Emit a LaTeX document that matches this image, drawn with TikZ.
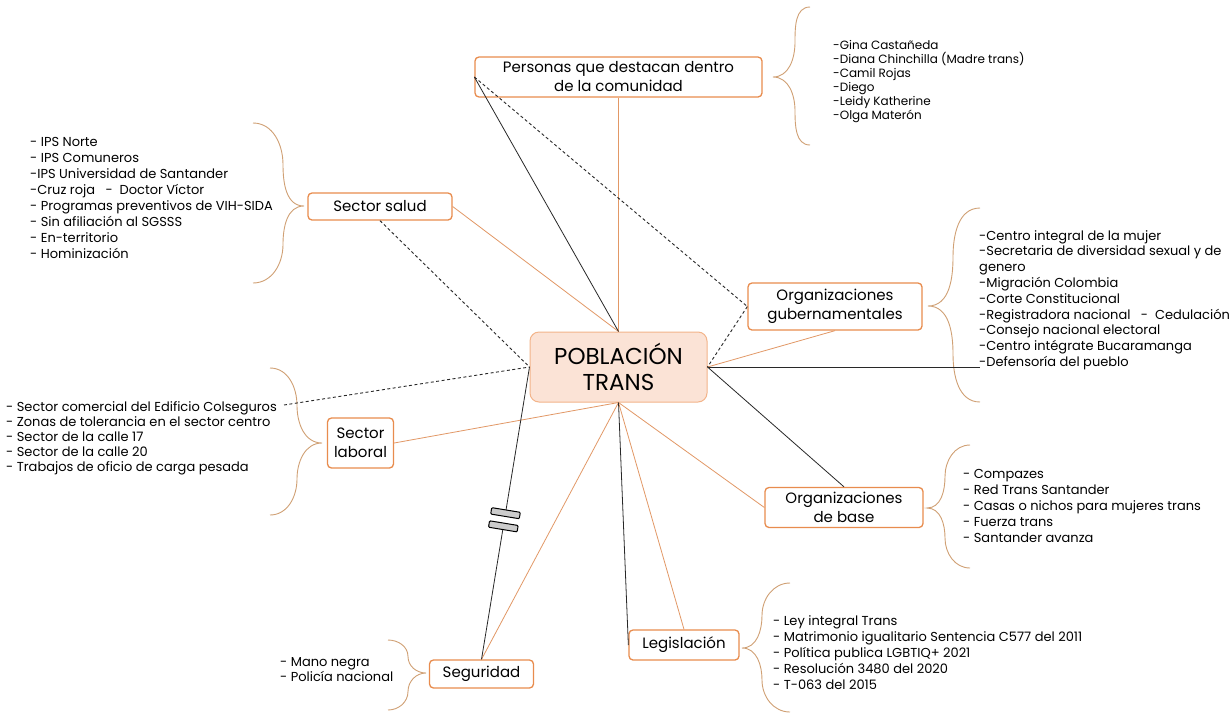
\documentclass[tikz,border=0pt]{standalone}
\usepackage{fontspec}
\setmainfont{Poppins}
\definecolor{boxorange}{RGB}{232,140,78}
\definecolor{lineorange}{RGB}{226,152,102}
\definecolor{centerfill}{RGB}{251,227,214}
\definecolor{centerborder}{RGB}{243,180,138}
\definecolor{bracecol}{RGB}{208,160,116}
\definecolor{darkline}{RGB}{40,40,40}
\newcommand{\braceLeft}[6]{\draw[bracestyle] (#1,-#4) to[out=180,in=90] (#2,{-(#4+#5)/2}) to[out=-90,in=0] (#3,-#5) to[out=0,in=90] (#2,{-(#5+#6)/2}) to[out=-90,in=180] (#1,-#6);}
\newcommand{\braceRight}[6]{\draw[bracestyle] (#1,-#4) to[out=0,in=90] (#2,{-(#4+#5)/2}) to[out=-90,in=180] (#3,-#5) to[out=180,in=90] (#2,{-(#5+#6)/2}) to[out=-90,in=0] (#1,-#6);}
\begin{document}
\begin{tikzpicture}[x=1pt,y=1pt,
  box/.style={draw=boxorange, line width=1.3pt, rounded corners=4pt, fill=white, align=center, inner sep=0pt, font=\fontsize{15}{19}\selectfont},
  centerbox/.style={draw=centerborder, line width=1pt, rounded corners=9pt, fill=centerfill, align=center, inner sep=0pt, font=\fontsize{23}{26}\selectfont},
  listtext/.style={anchor=west, align=left, inner sep=0pt, font=\fontsize{13}{15.8}\selectfont},
  bracestyle/.style={draw=bracecol, line width=0.9pt},
  oline/.style={draw=lineorange, line width=0.8pt},
  bline/.style={draw=darkline, line width=0.8pt},
  dline/.style={draw=darkline, line width=0.9pt, dash pattern=on 3pt off 2.5pt},
  brk/.style={draw=black, line width=1pt, fill=black!20, rounded corners=1pt, minimum width=6.5pt, minimum height=29pt, inner sep=0pt, sloped},
  brkgap/.style={fill=white, minimum width=14pt, minimum height=26pt, inner sep=0pt, sloped}
]
\useasboundingbox (0,0) rectangle (1231,-713);
\fill[white] (0,0) rectangle (1231,-713);

% nodes
\node[centerbox, minimum width=177pt, minimum height=70pt] (center) at (618.5,-367) {POBLACIÓN\\TRANS};
\node[box, minimum width=287pt, minimum height=40pt] (pers) at (618.5,-77) {Personas que destacan dentro\\de la comunidad};
\node[box, minimum width=144pt, minimum height=27pt] (salud) at (380,-206.5) {Sector salud};
\node[box, minimum width=174pt, minimum height=47pt] (gub) at (835,-306.5) {Organizaciones\\gubernamentales};
\node[box, minimum width=66pt, minimum height=50pt] (laboral) at (360.5,-443) {Sector\\laboral};
\node[box, minimum width=158pt, minimum height=40pt] (base) at (844,-507.5) {Organizaciones\\de base};
\node[box, minimum width=104pt, minimum height=28pt] (segur) at (481.5,-674) {Seguridad};
\node[box, minimum width=110pt, minimum height=30pt] (legis) at (684,-645) {Legislación};

% lists
\node[listtext, font=\fontsize{12}{14}\selectfont] (perslist) at (833,-82) {-Gina Castañeda\\-Diana Chinchilla (Madre trans)\\-Camil Rojas\\-Diego\\-Leidy Katherine\\-Olga Materón};
\node[listtext] (gublist) at (979,-300) {-Centro integral de la mujer\\-Secretaria de diversidad sexual y de\\genero\\-Migración Colombia\\-Corte Constitucional\\-Registradora nacional \ \ -\ \ Cedulación\\-Consejo nacional electoral\\-Centro intégrate Bucaramanga\\-Defensoría del pueblo};
\node[listtext, font=\fontsize{13}{15.9}\selectfont] (saludlist) at (30,-198) {- IPS Norte\\- IPS Comuneros\\-IPS Universidad de Santander\\-Cruz roja \ \ -\ \ Doctor Víctor\\- Programas preventivos de VIH-SIDA\\- Sin afiliación al SGSSS\\- En-territorio\\- Hominización};
\node[listtext, font=\fontsize{13}{15}\selectfont] (laborallist) at (6,-438) {- Sector comercial del Edificio Colseguros\\- Zonas de tolerancia en el sector centro\\- Sector de la calle 17\\- Sector de la calle 20\\- Trabajos de oficio de carga pesada};
\node[listtext, font=\fontsize{13}{16}\selectfont] (baselist) at (963,-506) {- Compazes\\- Red Trans Santander\\- Casas o nichos para mujeres trans\\- Fuerza trans\\- Santander avanza};
\node[listtext, font=\fontsize{13}{16}\selectfont] (legislist) at (773,-653) {- Ley integral Trans\\- Matrimonio igualitario Sentencia C577 del 2011\\- Política publica LGBTIQ+ 2021\\- Resolución 3480 del 2020\\- T-063 del 2015};
\node[listtext, font=\fontsize{13}{15}\selectfont] (segurlist) at (280,-670) {- Mano negra\\- Policía nacional};

% braces
\braceLeft{810}{795}{773}{7}{77}{145}
\braceLeft{980}{953}{928}{208}{306}{402}
\braceLeft{970}{945}{927}{445}{508}{568}
\braceLeft{790}{762}{742}{583}{648}{712}
\braceRight{253}{283}{304}{123}{206}{283}
\braceRight{270}{297}{322}{368}{443}{515}
\braceRight{388}{408}{426}{640}{673}{710}

% free ends
\coordinate (colseg) at (284,-405);
\coordinate (defen) at (980,-367);

% orange connectors
\draw[oline] (pers.south) -- (center.north);
\draw[oline] (salud.east) -- (center.north);
\draw[oline] (center.east) -- (gub.south);
\draw[oline] (laboral.east) -- (center.south);
\draw[oline] (center.south) -- (base.west);
\draw[oline] (center.south) -- (legis.north);
\draw[oline] (center.south) -- (segur.north);

% black connectors
\draw[bline] (pers.west) -- (center.north);
\draw[bline] (center.east) -- (defen);
\draw[bline] (center.east) -- (base.north);
\draw[bline] (center.south) -- (legis.west);
\draw[bline] (center.west) -- (segur.north)
  node[brkgap, pos=0.522] (gap) {}
  node[brk, pos=0.5] (brkA) {}
  node[brk, pos=0.545] (brkB) {};

% dashed connectors
\draw[dline] (pers.west) -- (gub.west);
\draw[dline] (gub.west) -- (center.east);
\draw[dline] (salud.south) -- (center.west);
\draw[dline] (colseg) -- (center.west);
\end{tikzpicture}
\end{document}
